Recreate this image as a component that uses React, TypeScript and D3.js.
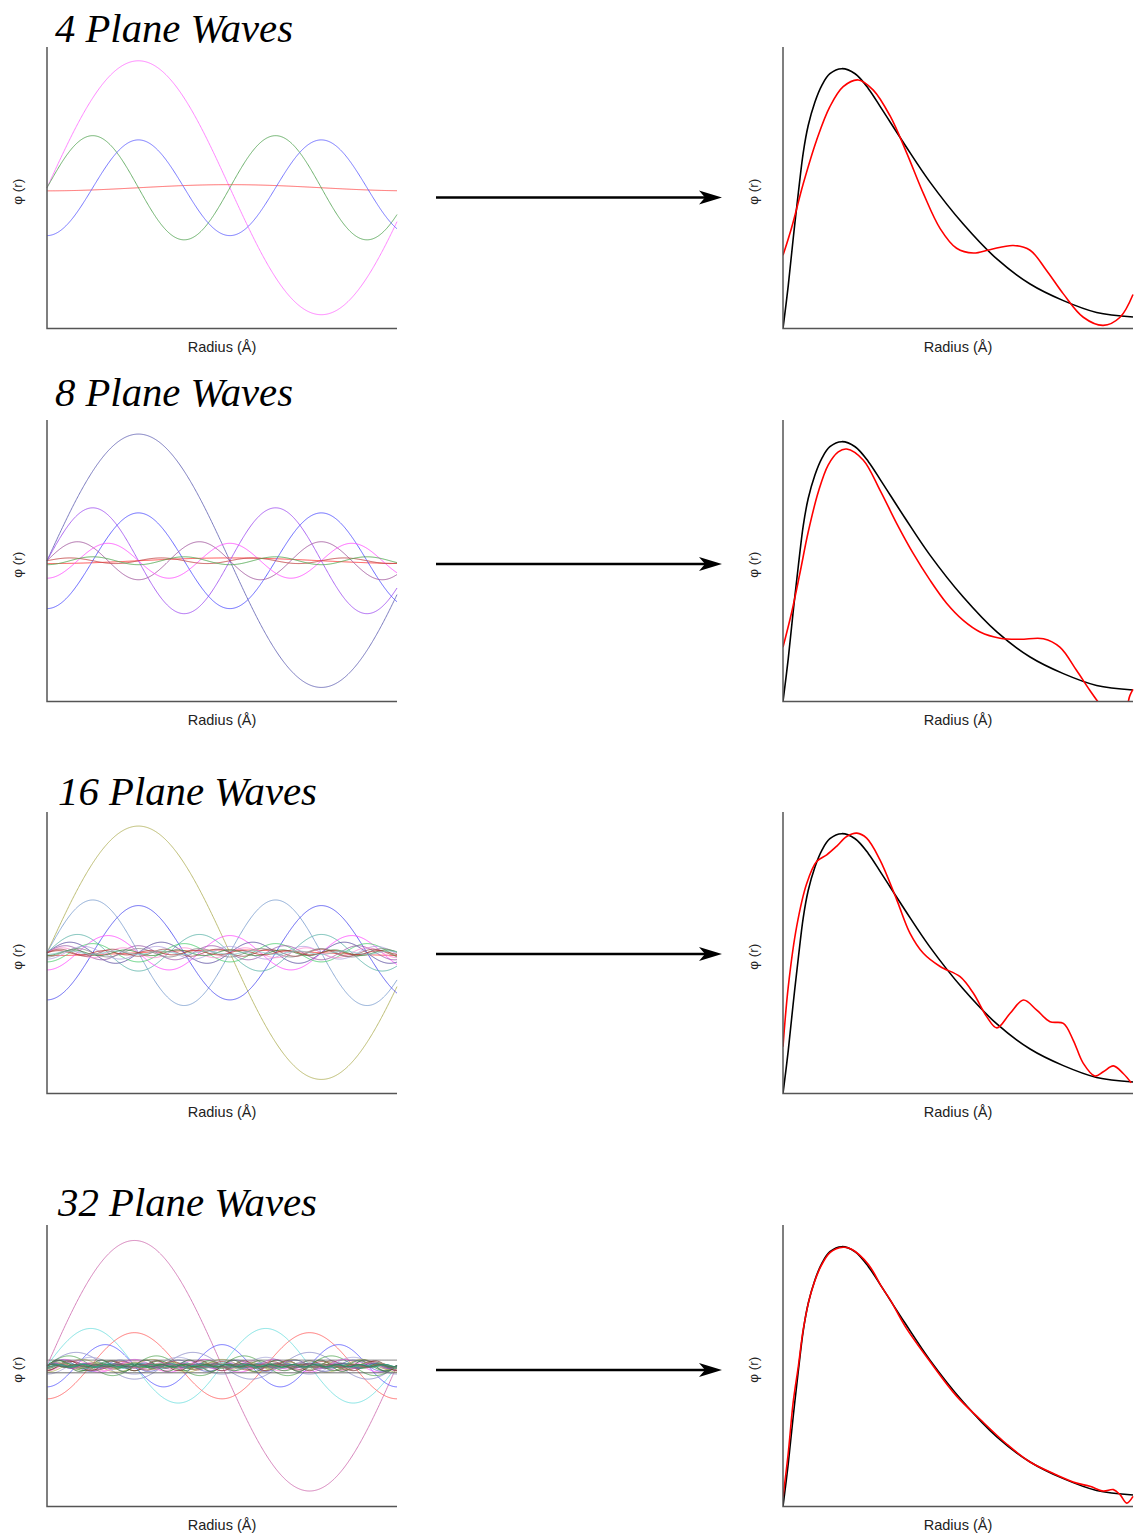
import React from "react";
import * as d3 from "d3";

const titles = ["4 Plane Waves", "8 Plane Waves", "16 Plane Waves", "32 Plane Waves"];

// plane-wave components: [harmonic n, "s" = sin / "c" = -cos, amplitude]
const waves4: [number, string, number][] = [
  [1, "s", 0.902], [1, "c", 0.022], [2, "s", 0.37], [2, "c", 0.34],
];
const colors4 = ["#ff70ff", "#ff5050", "#55a555", "#6060ff"];

const waves8: [number, string, number][] = [
  [1, "s", 0.9], [1, "c", 0.02], [2, "s", 0.376], [2, "c", 0.34],
  [3, "s", 0.135], [3, "c", 0.124], [4, "s", 0.02], [4, "c", 0.028],
];
const colors8 = ["#6464b4", "#ff3333", "#a050f0", "#5050ff", "#a0559b", "#ff4dff", "#c04040", "#4ca64c"];

const waves16: [number, string, number][] = [
  [1, "s", 0.9], [1, "c", 0.02], [2, "s", 0.375], [2, "c", 0.335],
  [3, "s", 0.13], [3, "c", 0.122], [4, "s", 0.075], [4, "c", 0.065],
  [5, "s", 0.05], [5, "c", 0.045], [6, "s", 0.035], [6, "c", 0.03],
  [7, "s", 0.025], [7, "c", 0.02], [8, "s", 0.015], [8, "c", 0.012],
];
const colors16 = [
  "#b2b25c", "#ff4040", "#7d9fcf", "#4f4ff0", "#5cb3a8", "#ff4dff", "#5a4fa0", "#4dcc70",
  "#9a5aa8", "#b0a0e0", "#ff8ad0", "#8a8a8a", "#a05050", "#3a8a3a", "#b03030", "#80c8c8",
];

const waves32: [number, string, number][] = [
  [1, "s", 0.89], [2, "s", 0.265], [2, "c", 0.235], [3, "c", 0.15],
  [3, "s", 0.095], [4, "s", 0.07], [4, "c", 0.06], [5, "s", 0.045],
  [5, "c", 0.045], [6, "s", 0.04], [6, "c", 0.035], [7, "s", 0.035],
  [7, "c", 0.03], [8, "s", 0.04], [8, "c", 0.035], [9, "s", 0.025],
  [9, "c", 0.02], [10, "s", 0.02], [10, "c", 0.018], [11, "s", 0.018],
  [11, "c", 0.015], [12, "s", 0.015], [12, "c", 0.012], [13, "s", 0.012],
  [13, "c", 0.01], [14, "s", 0.01], [14, "c", 0.009], [15, "s", 0.009],
  [15, "c", 0.008], [16, "s", 0.008], [0, "c", 0.05], [0, "c", -0.04],
];
const colors32 = [
  "#cf6fb0", "#6fdede", "#ff6060", "#5a5aff", "#8c8cc8", "#5aaa5a", "#a8a8d8", "#ff5cff",
  "#b8b860", "#6a6acc", "#ff88dd", "#3a8a3a", "#a04848", "#2f6f2f", "#7a3030", "#999955",
  "#55aaaa", "#cc66cc", "#448844", "#884488", "#aaaa77", "#5577bb", "#cc7777", "#339966",
  "#996699", "#777733", "#3d8c5a", "#aa5588", "#22aa88", "#2e7d4f", "#444444", "#666666",
];

// fundamental period (Å) of each row's basis
const fundamental = [10.45, 10.45, 10.45, 10];

// target orbital (black) and plane-wave fits (red): [radius, φ]
const target: [number, number][] = [
  [0, 0], [0.15, 0.152], [0.29, 0.318], [0.44, 0.484], [0.58, 0.626], [0.72, 0.721],
  [0.91, 0.804], [1.11, 0.864], [1.34, 0.905], [1.68, 0.923], [2.06, 0.905], [2.44, 0.852],
  [2.82, 0.78], [3.49, 0.651], [4.2, 0.52], [5.15, 0.371], [6.11, 0.247], [7.06, 0.158],
  [8.01, 0.099], [8.96, 0.057], [10, 0.041],
];
const fit4: [number, number][] = [
  [0, 0.26], [0.25, 0.36], [0.58, 0.515], [0.96, 0.669], [1.34, 0.788], [1.72, 0.859],
  [2.15, 0.883], [2.58, 0.847], [3.06, 0.755], [3.53, 0.625], [4.01, 0.48], [4.49, 0.355],
  [4.96, 0.285], [5.44, 0.268], [5.91, 0.28], [6.58, 0.295], [7.06, 0.278], [7.53, 0.206],
  [8.01, 0.123], [8.58, 0.04], [9.15, 0.011], [9.63, 0.04], [10, 0.121],
];
const fit8: [number, number][] = [
  [0, 0.193], [0.25, 0.318], [0.49, 0.46], [0.72, 0.602], [1.01, 0.745], [1.29, 0.84],
  [1.58, 0.887], [1.82, 0.897], [2.29, 0.858], [2.77, 0.751], [3.25, 0.632], [3.72, 0.526],
  [4.2, 0.431], [4.68, 0.348], [5.15, 0.288], [5.63, 0.247], [6.2, 0.225],
  [6.77, 0.221], [7.44, 0.223], [7.91, 0.193], [8.39, 0.11], [8.77, 0.039], [9.06, -0.011],
  [9.43, -0.064], [9.77, -0.036], [9.91, 0.021], [10, 0.043],
];
const fit16: [number, number][] = [
  [0, 0.166], [0.15, 0.379], [0.39, 0.593], [0.68, 0.747], [0.96, 0.824], [1.25, 0.848],
  [1.53, 0.878], [1.82, 0.913], [2.11, 0.925], [2.39, 0.907], [2.77, 0.83], [3.25, 0.688],
  [3.63, 0.569], [4.01, 0.498], [4.49, 0.451], [5.06, 0.415], [5.44, 0.356], [5.82, 0.273],
  [6.11, 0.233], [6.49, 0.285], [6.87, 0.332], [7.25, 0.296], [7.63, 0.255], [8.01, 0.249],
  [8.29, 0.19], [8.58, 0.107], [8.91, 0.062], [9.15, 0.077], [9.44, 0.098], [9.72, 0.071],
  [9.95, 0.038],
];
const fit32: [number, number][] = [
  [0, 0.033], [0.15, 0.19], [0.29, 0.37], [0.44, 0.5], [0.58, 0.63], [0.78, 0.75],
  [1.07, 0.85], [1.35, 0.903], [1.72, 0.921], [1.96, 0.914], [2.44, 0.86], [2.82, 0.78],
  [3.06, 0.735], [3.49, 0.64], [4.2, 0.515], [4.96, 0.392], [5.63, 0.31], [6.39, 0.222],
  [7.06, 0.158], [7.82, 0.112], [8.39, 0.083], [8.77, 0.072], [9.15, 0.055], [9.44, 0.06],
  [9.63, 0.042], [9.82, 0.012], [10, 0.036],
];

// layout
const W = 1135;
const H = 1535;
const panelTops = [47, 420, 812, 1225];
const panelH = 281.5;
const leftX: [number, number] = [47, 397];
const rightX: [number, number] = [783, 1133];
const titlePos = [[55, 42, 238], [55, 406, 238], [58, 805, 259], [58, 1216, 259]];
const arrowY = [197.5, 564, 954, 1370];

const rows = [
  { waves: waves4, colors: colors4, fit: fit4 },
  { waves: waves8, colors: colors8, fit: fit8 },
  { waves: waves16, colors: colors16, fit: fit16 },
  { waves: waves32, colors: colors32, fit: fit32 },
];

const rGrid = d3.range(0, 10.0001, 0.02);

function Axes({ x, top }: { x: [number, number]; top: number }) {
  const bottom = top + panelH;
  const mid = (x[0] + x[1]) / 2;
  return (
    <g>
      <path
        d={`M${x[0]},${top}V${bottom}H${x[1]}`}
        fill="none"
        stroke="#555"
        strokeWidth={1.5}
      />
      <text x={mid} y={bottom + 23} textAnchor="middle" fontSize={14.5} fill="#222">
        Radius (Å)
      </text>
      <text
        transform={`translate(${x[0] - 25.5},${top + panelH / 2 + 4}) rotate(-90)`}
        textAnchor="middle"
        fontSize={13.5}
        fill="#222"
      >
        φ (r)
      </text>
    </g>
  );
}

export default function App() {
  return (
    <svg
      width={W}
      height={H}
      style={{ position: "absolute", left: 0, top: 0, background: "#fff" }}
      fontFamily="'Liberation Sans', Arial, sans-serif"
    >
      <defs>
        {panelTops.map((top, i) => (
          <clipPath id={`clipR${i}`} key={i}>
            <rect x={rightX[0]} y={top - 5} width={rightX[1] - rightX[0] + 2} height={panelH + 5} />
          </clipPath>
        ))}
      </defs>
      {rows.map((row, i) => {
        const top = panelTops[i];
        const bottom = top + panelH;
        const xL = d3.scaleLinear().domain([0, 10]).range(leftX);
        const yL = d3.scaleLinear().domain([-1, 1]).range([bottom, top]);
        const xR = d3.scaleLinear().domain([0, 10]).range(rightX);
        const yR = d3.scaleLinear().domain([0, 1]).range([bottom, top]);
        const P = fundamental[i];
        const waveLine = d3.line<number>().x((r) => xL(r));
        const rLine = d3
          .line<[number, number]>()
          .x((d) => xR(d[0]))
          .y((d) => yR(d[1]))
          .curve(d3.curveCatmullRom.alpha(0.5));
        const [tx, ty, tl] = titlePos[i];
        return (
          <g key={i}>
            <text
              x={tx}
              y={ty}
              fontFamily="'Liberation Serif', 'DejaVu Serif', serif"
              fontStyle="italic"
              fontSize={40}
              textLength={tl}
              lengthAdjust="spacingAndGlyphs"
              fill="#000"
            >
              {titles[i]}
            </text>
            <g>
              {row.waves.map(([n, kind, a], j) => {
                const f = (r: number) => {
                  const ph = (2 * Math.PI * n * r) / P;
                  return kind === "s" ? a * Math.sin(ph) : -a * Math.cos(ph);
                };
                const d = waveLine.y((r) => yL(f(r)))(rGrid) || "";
                return (
                  <path
                    key={j}
                    d={d}
                    fill="none"
                    stroke={row.colors[j]}
                    strokeWidth={1}
                    strokeOpacity={0.85}
                  />
                );
              })}
            </g>
            <Axes x={leftX} top={top} />
            <g clipPath={`url(#clipR${i})`}>
              <path d={rLine(target) || ""} fill="none" stroke="#000" strokeWidth={1.6} />
              <path d={rLine(row.fit) || ""} fill="none" stroke="#ff0000" strokeWidth={1.6} />
            </g>
            <Axes x={rightX} top={top} />
            <line x1={436} x2={708} y1={arrowY[i]} y2={arrowY[i]} stroke="#000" strokeWidth={2.3} />
            <path
              d={`M722,${arrowY[i]}L699,${arrowY[i] - 7}L705,${arrowY[i]}L699,${arrowY[i] + 7}Z`}
              fill="#000"
            />
          </g>
        );
      })}
    </svg>
  );
}
